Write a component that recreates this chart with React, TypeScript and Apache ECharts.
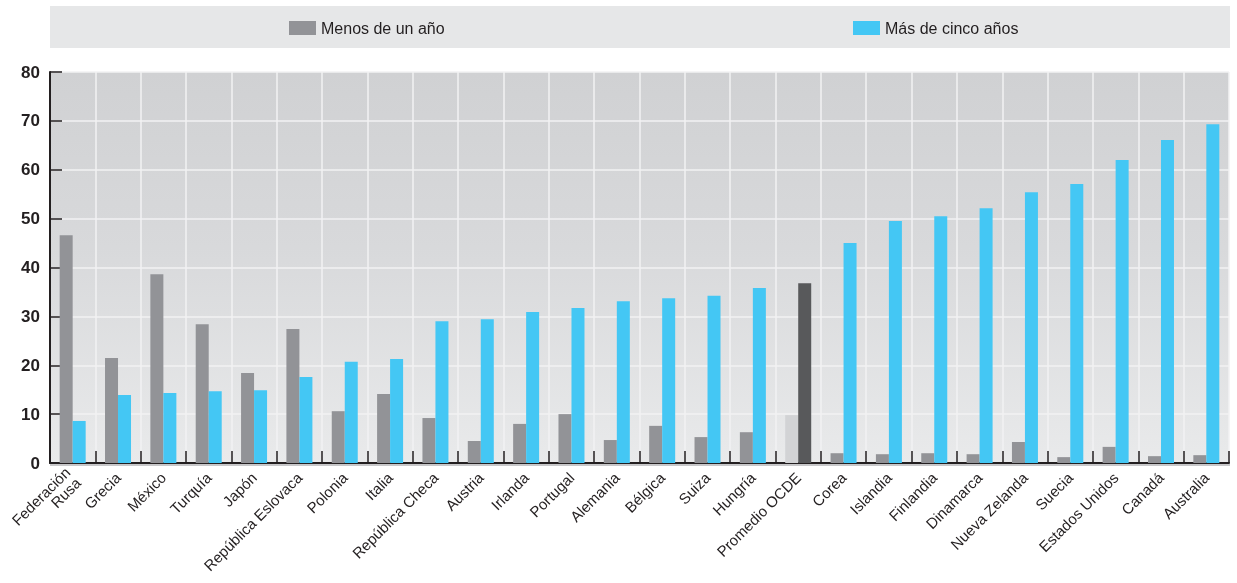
import React, { useEffect, useRef } from "react";
import * as echarts from "echarts";

const categories = [
  "Federación\nRusa", "Grecia", "México", "Turquía", "Japón", "República Eslovaca",
  "Polonia", "Italia", "República Checa", "Austria", "Irlanda", "Portugal",
  "Alemania", "Bélgica", "Suiza", "Hungría", "Promedio OCDE", "Corea",
  "Islandia", "Finlandia", "Dinamarca", "Nueva Zelanda", "Suecia",
  "Estados Unidos", "Canadá", "Australia",
];

const menosDeUnAno = [
  46.6, 21.5, 38.6, 28.4, 18.4, 27.4, 10.6, 14.1, 9.2, 4.5, 8.0, 10.0,
  4.7, 7.6, 5.3, 6.3, 9.8, 2.0, 1.8, 2.0, 1.8, 4.3, 1.2, 3.3, 1.4, 1.6,
];

const masDeCincoAnos = [
  8.6, 13.9, 14.3, 14.7, 14.9, 17.6, 20.7, 21.3, 29.0, 29.4, 30.9, 31.7,
  33.1, 33.7, 34.2, 35.8, 36.8, 45.0, 49.5, 50.5, 52.1, 55.4, 57.1, 62.0, 66.1, 69.3,
];

const seriesNames = ["Menos de un año", "Más de cinco años"];
const averageCategory = "Promedio OCDE";

const GRAY = "#929397";
const CYAN = "#44c7f4";
const AVG_LIGHT = "#d2d3d5";
const AVG_DARK = "#58595b";
const TEXT = "#231f20";
const FONT = "'Liberation Sans', Arial, sans-serif";

export default function App() {
  const ref = useRef<HTMLDivElement>(null);

  useEffect(() => {
    if (!ref.current) return;
    const chart = echarts.init(ref.current, null, { renderer: "svg" });
    const avgIdx = categories.indexOf(averageCategory);
    const mk = (vals: number[], avgColor: string) =>
      vals.map((v, i) =>
        i === avgIdx ? { value: v, itemStyle: { color: avgColor } } : v
      );

    const legendCommon = {
      top: 15,
      itemWidth: 27,
      itemHeight: 14,
      itemGap: 5,
      icon: "rect",
      textStyle: { fontSize: 16, color: TEXT, fontFamily: FONT },
    };

    chart.setOption({
      animation: false,
      textStyle: { fontFamily: FONT },
      graphic: [
        {
          type: "rect",
          z: -10,
          shape: { x: 50, y: 6, width: 1180, height: 42 },
          style: { fill: "#e6e7e8" },
        },
        {
          type: "line",
          z: -5,
          shape: { x1: 50, y1: 465, x2: 1230, y2: 465 },
          style: { stroke: "#b4b5b7", lineWidth: 1.5 },
        },
      ],
      legend: [
        { ...legendCommon, data: [seriesNames[0]], left: 284 },
        { ...legendCommon, data: [seriesNames[1]], left: 848 },
      ],
      grid: {
        left: 50,
        right: 8,
        top: 72,
        bottom: 120,
        show: true,
        borderWidth: 0,
        backgroundColor: new echarts.graphic.LinearGradient(0, 0, 0, 1, [
          { offset: 0, color: "#d0d1d3" },
          { offset: 0.45, color: "#d8d9db" },
          { offset: 1, color: "#e9eaeb" },
        ]),
      },
      xAxis: {
        type: "category",
        data: categories,
        boundaryGap: true,
        axisLine: { show: true, lineStyle: { color: TEXT, width: 2 } },
        axisTick: {
          show: true,
          inside: true,
          length: 12,
          alignWithLabel: false,
          lineStyle: { color: TEXT, width: 1.5 },
        },
        splitLine: { show: true, lineStyle: { color: "#f2f2f3", width: 1.5 } },
        axisLabel: {
          rotate: 45,
          interval: 0,
          margin: 12,
          fontSize: 15,
          color: TEXT,
          fontFamily: FONT,
          lineHeight: 15,
          align: "right",
        },
      },
      yAxis: {
        type: "value",
        min: 0,
        max: 80,
        interval: 10,
        axisLine: { show: true, lineStyle: { color: TEXT, width: 2 } },
        axisTick: { show: true, inside: true, length: 12, lineStyle: { color: TEXT, width: 1.5 } },
        splitLine: { show: true, lineStyle: { color: "#f2f2f3", width: 1.5 } },
        axisLabel: {
          fontSize: 17,
          color: TEXT,
          fontFamily: FONT,
          fontWeight: "bold",
          margin: 10,
        },
      },
      series: [
        {
          name: seriesNames[0],
          type: "bar",
          data: mk(menosDeUnAno, AVG_LIGHT),
          itemStyle: { color: GRAY },
          barWidth: 13,
          barGap: "0%",
        },
        {
          name: seriesNames[1],
          type: "bar",
          data: mk(masDeCincoAnos, AVG_DARK),
          itemStyle: { color: CYAN },
          barWidth: 13,
          barGap: "0%",
        },
      ],
    });
    return () => chart.dispose();
  }, []);

  return (
    <div
      ref={ref}
      style={{ position: "fixed", left: 0, top: 0, width: 1237, height: 583 }}
    />
  );
}
